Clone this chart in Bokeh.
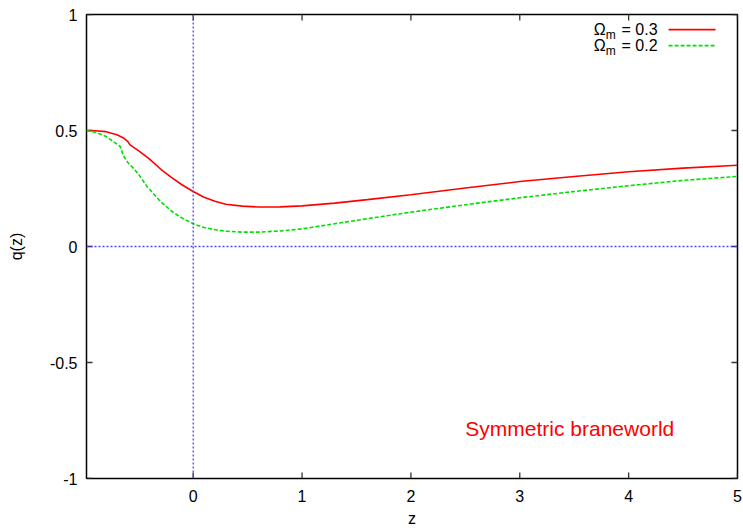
from bokeh.plotting import figure
from bokeh.models import FixedTicker, Span, Label, Range1d
from bokeh.embed import file_html
from bokeh.resources import INLINE

# ---- data ----
z_03 = [-0.98, -0.9, -0.8, -0.7, -0.64, -0.6, -0.58, -0.5, -0.4, -0.3, -0.2, -0.1, 0.0,
        0.1, 0.2, 0.3, 0.45, 0.6, 0.8, 1.0, 1.3, 1.6, 2.0, 2.5, 3.0, 3.5, 4.0, 4.5, 5.0]
q_03 = [0.5, 0.499, 0.495, 0.482, 0.468, 0.452, 0.438, 0.412, 0.377, 0.334, 0.298, 0.265, 0.237,
        0.212, 0.195, 0.182, 0.174, 0.170, 0.171, 0.175, 0.187, 0.202, 0.223, 0.252, 0.28, 0.302,
        0.322, 0.338, 0.35]
z_02 = [-0.98, -0.9, -0.8, -0.72, -0.67, -0.64, -0.6, -0.55, -0.5, -0.425, -0.3, -0.2, -0.15,
        -0.1, 0.0, 0.1, 0.2, 0.3, 0.45, 0.6, 0.8, 1.0, 1.3, 1.6, 2.0, 2.5, 3.0, 3.5, 4.0, 4.5, 5.0]
q_02 = [0.5, 0.493, 0.474, 0.448, 0.431, 0.39, 0.362, 0.338, 0.31, 0.259, 0.194, 0.153, 0.137,
        0.122, 0.098, 0.082, 0.072, 0.066, 0.062, 0.062, 0.067, 0.076, 0.098, 0.12, 0.148, 0.18,
        0.21, 0.237, 0.262, 0.285, 0.302]
x_ticks = [0, 1, 2, 3, 4, 5]
y_ticks = [-1, -0.5, 0, 0.5, 1]
y_tick_labels = {-1: "-1", -0.5: "-0.5", 0: "0", 0.5: "0.5", 1: "1"}
legend_values = ["0.3", "0.2"]
annotation_text = "Symmetric braneworld"

FONT = "Liberation Sans"
RED = "#ff0000"
GREEN = "#00e000"
BLUE = "#4848f0"
TICK = "#333333"

W, H = 743, 529
BL, BR, BT, BB = 86, 6, 14, 51
p = figure(width=W, height=H, output_backend="svg", toolbar_location=None,
           x_range=Range1d(-0.98, 5), y_range=Range1d(-1, 1),
           min_border_left=BL, min_border_right=BR, min_border_top=BT, min_border_bottom=BB)
p.background_fill_color = "white"
p.border_fill_color = "white"
p.outline_line_color = "black"
p.outline_line_width = 1.5
p.grid.visible = False

for ax in [p.xaxis[0], p.yaxis[0]]:
    ax.major_tick_in = 0
    ax.major_tick_out = 0
    ax.major_tick_line_color = None
    ax.minor_tick_line_color = None
    ax.axis_line_color = None
    ax.major_label_text_font = FONT
    ax.major_label_text_font_size = "16px"
    ax.major_label_text_color = "black"
    ax.axis_label_text_font = FONT
    ax.axis_label_text_font_size = "16px"
    ax.axis_label_text_font_style = "normal"
    ax.axis_label_text_color = "black"

p.xaxis[0].ticker = FixedTicker(ticks=x_ticks)
p.yaxis[0].ticker = FixedTicker(ticks=y_ticks)
p.yaxis[0].major_label_overrides = y_tick_labels
p.xaxis[0].axis_label = "z"
p.xaxis[0].major_label_standoff = 11
p.xaxis[0].axis_label_standoff = 5
p.yaxis[0].major_label_standoff = 9
p.yaxis[0].axis_label = "q(z)"
p.yaxis[0].axis_label_standoff = 22

# inward tick marks on all four sides, 6 px long
xs, xe = p.x_range.start, p.x_range.end
ys, ye = p.y_range.start, p.y_range.end
tick_px = 6
dy = tick_px * (ye - ys) / (H - BT - BB)
dx = tick_px * (xe - xs) / (W - BL - BR)
p.segment(x0=x_ticks, y0=[ys] * len(x_ticks), x1=x_ticks, y1=[ys + dy] * len(x_ticks),
          line_color=TICK, line_width=1.3)
p.segment(x0=x_ticks, y0=[ye] * len(x_ticks), x1=x_ticks, y1=[ye - dy] * len(x_ticks),
          line_color=TICK, line_width=1.3)
p.segment(x0=[xs] * len(y_ticks), y0=y_ticks, x1=[xs + dx] * len(y_ticks), y1=y_ticks,
          line_color=TICK, line_width=1.3)
p.segment(x0=[xe] * len(y_ticks), y0=y_ticks, x1=[xe - dx] * len(y_ticks), y1=y_ticks,
          line_color=TICK, line_width=1.3)

# zero lines
p.add_layout(Span(location=0, dimension="height", line_color=BLUE, line_dash="2 2", line_width=1.3))
p.add_layout(Span(location=0, dimension="width", line_color=BLUE, line_dash="2 2", line_width=1.3))

p.line(z_03, q_03, line_color=RED, line_width=1.6)
p.line(z_02, q_02, line_color=GREEN, line_width=1.6, line_dash="4 2")

# legend (manual, with subscript)
rows = [(0.935, RED, None), (0.866, GREEN, "4 2")]
for (yy, col, dash), val in zip(rows, legend_values):
    p.add_layout(Label(x=3.789, y=yy, text="Ω", text_align="right", text_baseline="middle",
                       text_font=FONT, text_font_size="16px", text_color="black"))
    p.add_layout(Label(x=3.789, y=yy, y_offset=-5, text="m", text_align="left", text_baseline="middle",
                       text_font=FONT, text_font_size="12px", text_color="black"))
    p.add_layout(Label(x=4.266, y=yy, text="= " + val, text_align="right", text_baseline="middle",
                       text_font=FONT, text_font_size="16px", text_color="black"))
    kw = dict(line_color=col, line_width=1.6)
    if dash:
        kw["line_dash"] = dash
    p.line([4.367, 4.798], [yy, yy], **kw)

p.add_layout(Label(x=2.5, y=-0.785, text=annotation_text, text_align="left",
                   text_baseline="alphabetic", text_font=FONT, text_font_size="21px",
                   text_color=RED))

open("out.html", "w").write(file_html(p, INLINE))
